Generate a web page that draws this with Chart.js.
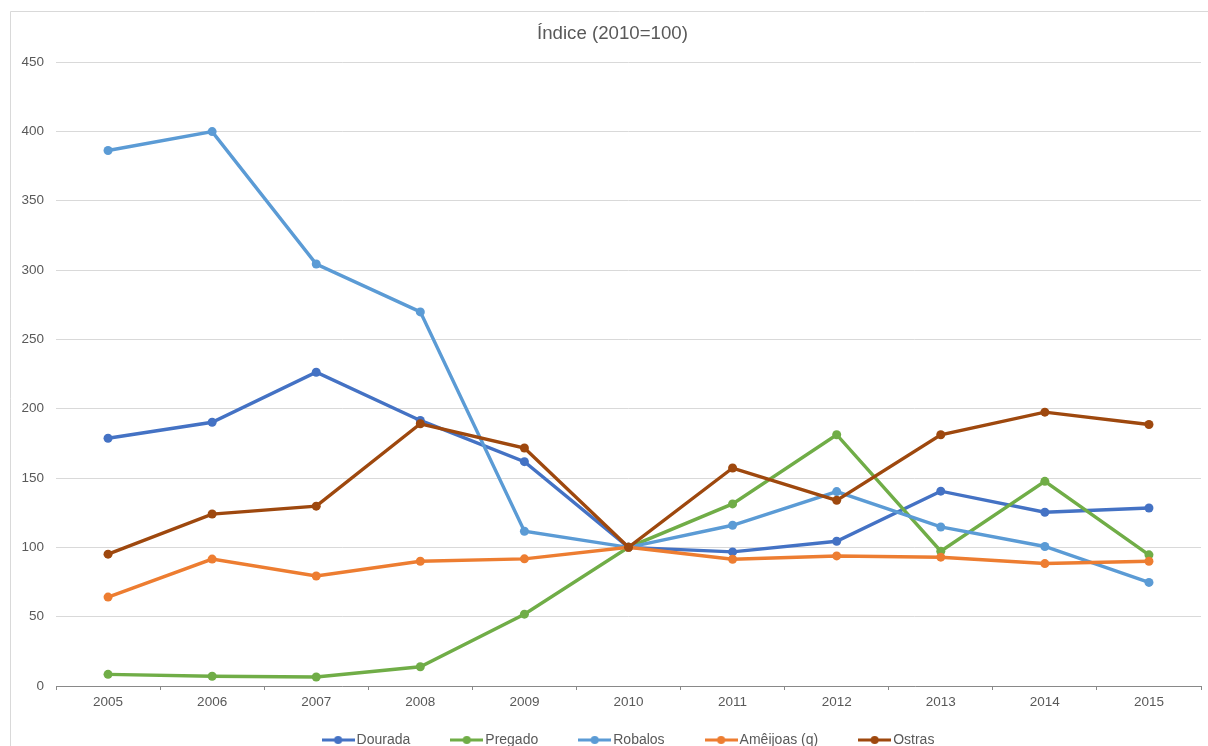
<!DOCTYPE html>
<html>
<head>
<meta charset="utf-8">
<title>Índice (2010=100)</title>
<script src="https://cdn.jsdelivr.net/npm/chart.js@4.4.1/dist/chart.umd.min.js"></script>
<style>
    html, body {
        margin: 0;
        padding: 0;
        background: #ffffff;
        overflow: hidden;
        width: 1208px;
        height: 746px;
    }
    #indexChart {
        position: absolute;
        left: 10px;
        top: 11px;
    }
</style>
</head>
<body>
<canvas id="indexChart" width="1219" height="774"></canvas>
<script>
const years = ['2005', '2006', '2007', '2008', '2009', '2010', '2011', '2012', '2013', '2014', '2015'];

const dourada = [178.7, 190.2, 226.3, 191.5, 161.8, 100, 96.7, 104.4, 140.5, 125.3, 128.4];
const pregado = [8.4, 7.0, 6.5, 13.9, 51.8, 100, 131.3, 181.2, 97.2, 147.6, 94.6];
const robalos = [386.2, 399.8, 304.3, 269.8, 111.6, 100, 115.9, 140.2, 114.7, 100.6, 74.7];
const ameijoas = [64.1, 91.5, 79.3, 90.0, 91.7, 100, 91.4, 93.8, 92.9, 88.3, 90.0];
const ostras = [95.1, 124.0, 129.7, 189.1, 171.6, 100, 157.2, 133.9, 181.2, 197.5, 188.6];

const yTicks = { min: 0, max: 450, step: 50 };

const FONT = '"Liberation Sans", Arial, Helvetica, sans-serif';
const TEXT = '#595959';

// little line-with-dot swatch used as the legend marker
function legendMarker(color) {
    const c = document.createElement('canvas');
    c.width = 33;
    c.height = 14;
    const g = c.getContext('2d');
    g.strokeStyle = color;
    g.lineWidth = 3;
    g.beginPath();
    g.moveTo(0, 7);
    g.lineTo(33, 7);
    g.stroke();
    g.fillStyle = color;
    g.beginPath();
    g.arc(16.5, 7, 4, 0, Math.PI * 2);
    g.fill();
    return c;
}

function series(label, data, color, order) {
    return {
        label: label,
        data: data,
        borderColor: color,
        backgroundColor: color,
        borderWidth: 3.4,
        pointRadius: 4.5,
        pointBorderWidth: 0,
        pointHoverRadius: 4.5,
        tension: 0,
        order: order,
        marker: legendMarker(color)
    };
}

// white background and the thin frame on the left/top edges
const framePlugin = {
    id: 'frame',
    beforeDraw(chart) {
        const ctx = chart.ctx;
        ctx.save();
        ctx.fillStyle = '#ffffff';
        ctx.fillRect(0, 0, chart.width, chart.height);
        ctx.strokeStyle = '#d9d9d9';
        ctx.lineWidth = 1;
        ctx.beginPath();
        ctx.moveTo(0.5, chart.height);
        ctx.lineTo(0.5, 0.5);
        ctx.lineTo(chart.width, 0.5);
        ctx.stroke();
        ctx.restore();
    }
};

// the legend sits tight under the year labels; the wide label padding
// is only there for the horizontal gaps between entries
const nudgePlugin = {
    id: 'nudge',
    afterLayout(chart) {
        const lg = chart.legend;
        lg.top -= 28;
        lg.bottom -= 28;
        lg.left += 2;
        lg.right += 2;
        const tb = chart.titleBlock;
        tb.left += 1.5;
        tb.right += 1.5;
    }
};

const ctx = document.getElementById('indexChart').getContext('2d');

new Chart(ctx, {
    type: 'line',
    data: {
        labels: years,
        datasets: [
            series('Dourada', dourada, '#4472C4', 4),
            series('Pregado', pregado, '#70AD47', 3),
            series('Robalos', robalos, '#5B9BD5', 2),
            series('Amêijoas (q)', ameijoas, '#ED7D31', 1),
            series('Ostras', ostras, '#9E480E', 0)
        ]
    },
    options: {
        responsive: false,
        animation: false,
        devicePixelRatio: 1,
        layout: {
            padding: { left: 11, right: 28, top: 0, bottom: 0 }
        },
        plugins: {
            title: {
                display: true,
                text: 'Índice (2010=100)',
                color: TEXT,
                font: { family: FONT, size: 18.67, weight: 'normal', lineHeight: 1.2 },
                padding: { top: 11.8, bottom: 16.8 }
            },
            legend: {
                position: 'bottom',
                fullSize: false,
                labels: {
                    usePointStyle: true,
                    pointStyleWidth: 23,
                    padding: 45,
                    color: TEXT,
                    font: { family: FONT, size: 14 },
                    sort: (a, b) => a.datasetIndex - b.datasetIndex,
                    generateLabels(chart) {
                        const items = Chart.defaults.plugins.legend.labels.generateLabels(chart);
                        items.forEach(item => {
                            item.pointStyle = chart.data.datasets[item.datasetIndex].marker;
                        });
                        return items;
                    }
                }
            },
            tooltip: { enabled: false }
        },
        scales: {
            x: {
                offset: true,
                afterFit(scale) {
                    scale.height = 30;
                },
                grid: {
                    offset: true,
                    drawOnChartArea: false,
                    drawTicks: true,
                    tickLength: 4,
                    color: '#898989'
                },
                border: { display: true, color: '#898989', width: 1 },
                ticks: {
                    color: TEXT,
                    padding: 4,
                    maxRotation: 0,
                    font: { family: FONT, size: 13.5 }
                }
            },
            y: {
                min: yTicks.min,
                max: yTicks.max,
                afterFit(scale) {
                    scale.width = 35;
                },
                grid: {
                    color: '#d9d9d9',
                    lineWidth: 1,
                    drawTicks: false
                },
                border: { display: false },
                ticks: {
                    stepSize: yTicks.step,
                    color: TEXT,
                    padding: 12,
                    font: { family: FONT, size: 13.5 }
                }
            }
        }
    },
    plugins: [framePlugin, nudgePlugin]
});
</script>
</body>
</html>
